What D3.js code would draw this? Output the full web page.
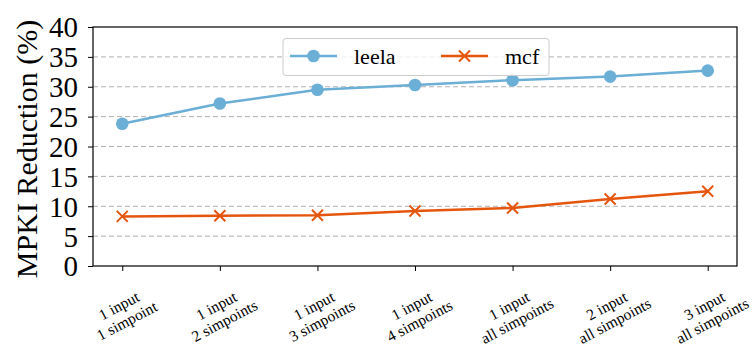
<!DOCTYPE html>
<html><head><meta charset="utf-8">
<script src="https://cdn.jsdelivr.net/npm/d3@7"></script>
<style>body{margin:0;background:#fff}svg{display:block}svg text{font-family:'Liberation Serif',serif}</style>
</head><body><svg id="c" width="752" height="347"></svg>
<script>
const categories = [["1 input","1 simpoint"],["1 input","2 simpoints"],["1 input","3 simpoints"],["1 input","4 simpoints"],["1 input","all simpoints"],["2 input","all simpoints"],["3 input","all simpoints"]];
const leela = [23.8, 27.2, 29.5, 30.3, 31.1, 31.7, 32.7];
const mcf = [8.3, 8.4, 8.5, 9.2, 9.7, 11.2, 12.5];
const yTicks = [0,5,10,15,20,25,30,35,40];
const seriesNames = ["leela","mcf"];
const colors = ["#6baed6","#e6550d"];

const svg = d3.select("#c");
const L=93, R=737, T=27, B=266;
const x = d3.scaleLinear().domain([-0.3, categories.length-1+0.3]).range([L,R]);
const y = d3.scaleLinear().domain([0,40]).range([B,T]);
const font = "'Liberation Serif',serif";

// grid
svg.append("g").selectAll("line").data(yTicks.filter(d=>d>0&&d<40)).join("line")
  .attr("x1",L).attr("x2",R).attr("y1",d=>y(d)).attr("y2",d=>y(d))
  .attr("stroke","#b0b0b0").attr("stroke-width",1).attr("stroke-dasharray","5,3");

// y axis
const ya = svg.append("g").attr("transform",`translate(${L},0)`)
  .call(d3.axisLeft(y).tickValues(yTicks).tickSize(5).tickPadding(10));
ya.attr("font-family",null).attr("font-size",null);
ya.select(".domain").remove();
ya.selectAll("text").style("font-family",font).style("font-size","29px").attr("fill","#000").attr("dy","0.34em");
ya.selectAll("line").attr("stroke","#000");

// x axis
const xa = svg.append("g").attr("transform",`translate(0,${B})`)
  .call(d3.axisBottom(x).tickValues(d3.range(categories.length)).tickSize(5).tickFormat(""));
xa.select(".domain").remove();
xa.selectAll("line").attr("stroke","#000");
const xl = svg.append("g").selectAll("text").data(categories).join("text")
  .attr("transform",(d,i)=>`translate(${x(i)+1},${B+48}) rotate(-28)`)
  .attr("text-anchor","middle").style("font-family",font).style("font-size","15.5px");
xl.append("tspan").attr("x",0).attr("y",-4).text(d=>d[0]);
xl.append("tspan").attr("x",0).attr("y",13).text(d=>d[1]);

// frame
svg.append("rect").attr("x",L).attr("y",T).attr("width",R-L).attr("height",B-T)
  .attr("fill","none").attr("stroke","#000").attr("stroke-width",1.2);

// y label
svg.append("text").attr("transform",`translate(37,149) rotate(-90)`)
  .attr("text-anchor","middle").style("font-family",font).style("font-size","30px").text("MPKI Reduction (%)");

const line = d3.line().x((d,i)=>x(i)).y(d=>y(d));
const data = [leela, mcf];
data.forEach((s,k)=>{
  svg.append("path").datum(s).attr("d",line).attr("fill","none").attr("stroke",colors[k]).attr("stroke-width",2.5);
});
function marker(g,k,cx,cy){
  if(k===0){ g.append("circle").attr("cx",cx).attr("cy",cy).attr("r",6.3).attr("fill",colors[0]); }
  else { const s=5.5; g.append("path").attr("d",`M${cx-s},${cy-s}L${cx+s},${cy+s}M${cx-s},${cy+s}L${cx+s},${cy-s}`).attr("stroke",colors[1]).attr("stroke-width",2); }
}
data.forEach((s,k)=>{ const g=svg.append("g"); s.forEach((v,i)=>marker(g,k,x(i),y(v))); });

// legend
const lg = svg.append("g");
lg.append("rect").attr("x",283).attr("y",38.5).attr("width",266).attr("height",37).attr("rx",3)
  .attr("fill","#fff").attr("fill-opacity",0.8).attr("stroke","#ccc").attr("stroke-width",1);
const lx=[290,441];
seriesNames.forEach((n,k)=>{
  lg.append("line").attr("x1",lx[k]).attr("x2",lx[k]+47).attr("y1",56).attr("y2",56).attr("stroke",colors[k]).attr("stroke-width",2.5);
  marker(lg,k,lx[k]+23.5,56);
  lg.append("text").attr("x",lx[k]+64).attr("y",63.5).style("font-family",font).style("font-size","22px").text(n);
});
</script></body></html>
